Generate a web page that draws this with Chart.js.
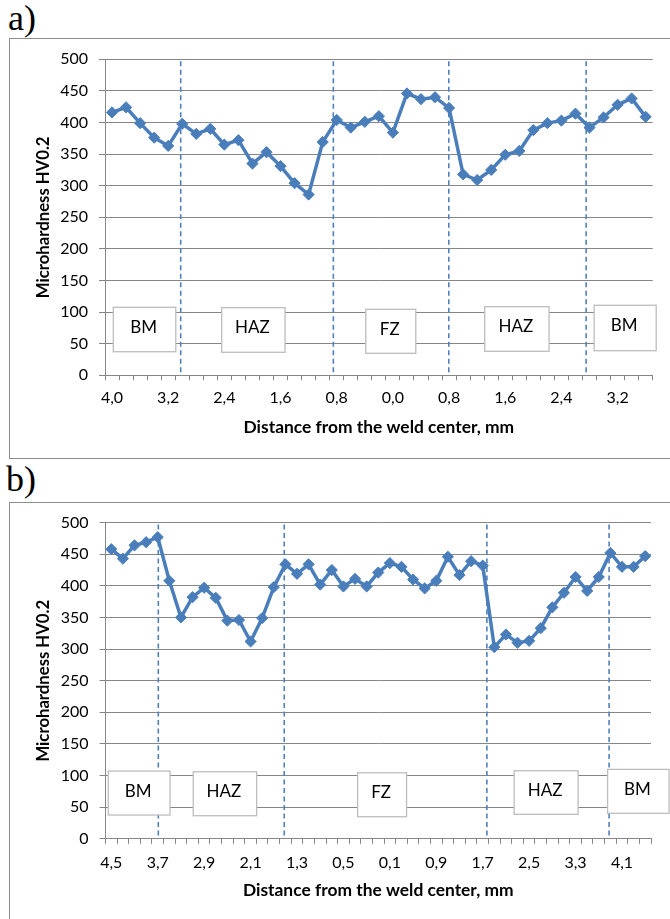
<!DOCTYPE html>
<html><head><meta charset="utf-8">
<script src="https://cdn.jsdelivr.net/npm/chart.js@4"></script>
<style>
html,body{margin:0;padding:0;background:#fff;width:670px;height:919px;overflow:hidden;position:relative;}
.lbl{position:absolute;font-family:"Liberation Serif","Times New Roman",serif;font-size:36px;color:#000;line-height:1;}
.frame{position:absolute;border:1px solid #8c8c8c;box-sizing:border-box;}
canvas{position:absolute;}
</style></head><body>
<div class="lbl" style="left:8px;top:0px">a)</div>
<div class="lbl" style="left:6px;top:461px">b)</div>
<div class="frame" style="left:9px;top:38px;width:670px;height:421px"></div>
<div class="frame" style="left:9px;top:502px;width:670px;height:430px"></div>
<canvas id="chartA" width="661" height="420" style="left:9px;top:38px"></canvas>
<canvas id="chartB" width="661" height="417" style="left:9px;top:502px"></canvas>
<script>
// ---- data ----
const labelsA = ['4,0','3,8','3,6','3,4','3,2','3,0','2,8','2,6','2,4','2,2','2,0','1,8','1,6','1,4','1,2','1,0','0,8','0,6','0,4','0,2','0,0','0,2','0,4','0,6','0,8','1,0','1,2','1,4','1,6','1,8','2,0','2,2','2,4','2,6','2,8','3,0','3,2','3,4','3,6'];
const hardnessA = [416,424,399,376,363,398,382,390,365,372,335,353,331,304,286,369,404,392,401,410,384,446,437,440,423,318,309,325,349,355,388,399,403,414,392,408,428,438,409];

const labelsB = ['4,5','4,3','4,1','3,9','3,7','3,5','3,3','3,1','2,9','2,7','2,5','2,3','2,1','1,9','1,7','1,5','1,3','1,1','0,9','0,7','0,5','0,3','0,1','0,0','0,1','0,3','0,5','0,7','0,9','1,1','1,3','1,5','1,7','1,9','2,1','2,3','2,5','2,7','2,9','3,1','3,3','3,5','3,7','3,9','4,1','4,3','4,5'];
const hardnessB = [458,443,464,469,477,408,350,382,397,381,345,346,312,349,398,434,419,434,402,425,399,411,399,421,436,430,410,396,408,446,417,439,432,303,323,310,313,333,366,389,414,392,414,452,430,430,447];

const zoneNames = ['BM','HAZ','FZ','HAZ','BM'];
const yTickStep = 50;
const yMin = 0, yMax = 500;
const yTitle = 'Microhardness HV0.2';
const xTitle = 'Distance from the weld center, mm';

// zone boundaries (category-index units) and label boxes [x1, x2, yLow, yHigh] in data units
const boundsA = [4.89, 15.76, 23.98, 33.76];
const boxesA = [[0.09,4.54,37.3,107.6],[7.81,12.32,36.4,107],[18.07,21.63,34.8,104.4],[26.54,31.12,38,108.5],[34.33,38.75,38.9,110.8]];
const boundsB = [4.05, 14.90, 32.36, 42.89];
const boxesB = [[-0.26,5.06,37.6,107.1],[7.06,12.52,36.5,106],[21.22,25.44,34.9,104.4],[34.71,40.22,38.7,107.6],[42.76,48.06,40.3,109.8]];

Chart.defaults.font.family = 'Lato, "Open Sans", sans-serif';
Chart.defaults.color = '#000';

const GRID = '#868686';
const LINE = '#4a7ebb';

const zonePlugin = {
  id: 'zones',
  beforeDatasetsDraw(chart, args, opts) {
    const {ctx, scales:{x, y}} = chart;
    ctx.save();
    ctx.strokeStyle = '#4f81bd';
    ctx.lineWidth = 1.6;
    ctx.setLineDash([5, 3.5]);
    opts.bounds.forEach(b => {
      const px = x.getPixelForValue(b);
      ctx.beginPath();
      ctx.moveTo(px, y.getPixelForValue(yMax) + 2);
      ctx.lineTo(px, y.getPixelForValue(yMin));
      ctx.stroke();
    });
    ctx.restore();
  },
  afterDatasetsDraw(chart, args, opts) {
    const {ctx, chartArea, scales:{x, y}} = chart;
    ctx.save();
    opts.boxes.forEach((b, i) => {
      const x1 = x.getPixelForValue(b[0]), x2 = x.getPixelForValue(b[1]);
      const y1 = y.getPixelForValue(b[3]), y2 = y.getPixelForValue(b[2]);
      ctx.fillStyle = '#fff';
      ctx.fillRect(x1, y1, x2 - x1, y2 - y1);
      ctx.strokeStyle = '#bdbdbd';
      ctx.lineWidth = 1.3;
      ctx.strokeRect(x1, y1, x2 - x1, y2 - y1);
      ctx.fillStyle = '#000';
      ctx.font = '17px Lato';
      ctx.textAlign = 'center';
      ctx.textBaseline = 'middle';
      ctx.fillText(zoneNames[i], (x1 + x2) / 2 - 1, (y1 + y2) / 2 - 2);
    });
    // x axis title
    ctx.font = 'bold 17.4px Lato';
    ctx.textAlign = 'center';
    ctx.textBaseline = 'middle';
    ctx.fillStyle = '#000';
    ctx.fillText(xTitle, (chartArea.left + chartArea.right) / 2, chartArea.bottom + opts.titleGap);
    ctx.restore();
  }
};

function makeChart(id, labels, values, cfg) {
  return new Chart(document.getElementById(id), {
    type: 'line',
    data: {
      labels: labels,
      datasets: [{
        data: values,
        borderColor: LINE,
        backgroundColor: LINE,
        borderWidth: 3.5,
        pointStyle: 'rectRot',
        pointRadius: 5.6,
        pointBorderWidth: 1,
        pointBackgroundColor: LINE,
        pointBorderColor: LINE,
        tension: 0,
        clip: false
      }]
    },
    options: {
      responsive: false,
      animation: false,
      layout: {padding: {left: 0, top: cfg.top, right: cfg.right, bottom: 0}},
      plugins: {
        legend: {display: false},
        tooltip: {enabled: false},
        zones: {bounds: cfg.bounds, boxes: cfg.boxes, titleGap: cfg.titleGap}
      },
      scales: {
        x: {
          type: 'category',
          offset: true,
          afterFit: s => { s.height = cfg.xh; },
          grid: {display: true, drawOnChartArea: false, drawTicks: true, tickLength: 5, offset: true, color: GRID, lineWidth: 1},
          border: {display: true, color: GRID, width: 1},
          ticks: {
            autoSkip: false, maxRotation: 0, minRotation: 0, padding: cfg.xpad,
            font: {size: 16},
            callback: (v, i) => (i % 4 === 0 ? labels[i] : '')
          }
        },
        y: {
          min: yMin, max: yMax,
          afterFit: s => { s.width = cfg.yw; },
          grid: {color: GRID, lineWidth: 1, drawTicks: true, tickLength: 6},
          border: {display: true, color: GRID, width: 1},
          ticks: {stepSize: yTickStep, padding: 11, font: {size: 16}},
          title: {display: true, text: yTitle, font: {size: 16.7, weight: 'bold'}, padding: {top: 25, bottom: 0}}
        }
      }
    },
    plugins: [zonePlugin]
  });
}

makeChart('chartA', labelsA, hardnessA, {top: 21.3, right: 17.3, xh: 82.7, yw: 96, xpad: 8, titleGap: 51.7, bounds: boundsA, boxes: boxesA});
makeChart('chartB', labelsB, hardnessB, {top: 20.3, right: 19, xh: 80.2, yw: 96.5, xpad: 9, titleGap: 51.3, bounds: boundsB, boxes: boxesB});
</script>
</body></html>
